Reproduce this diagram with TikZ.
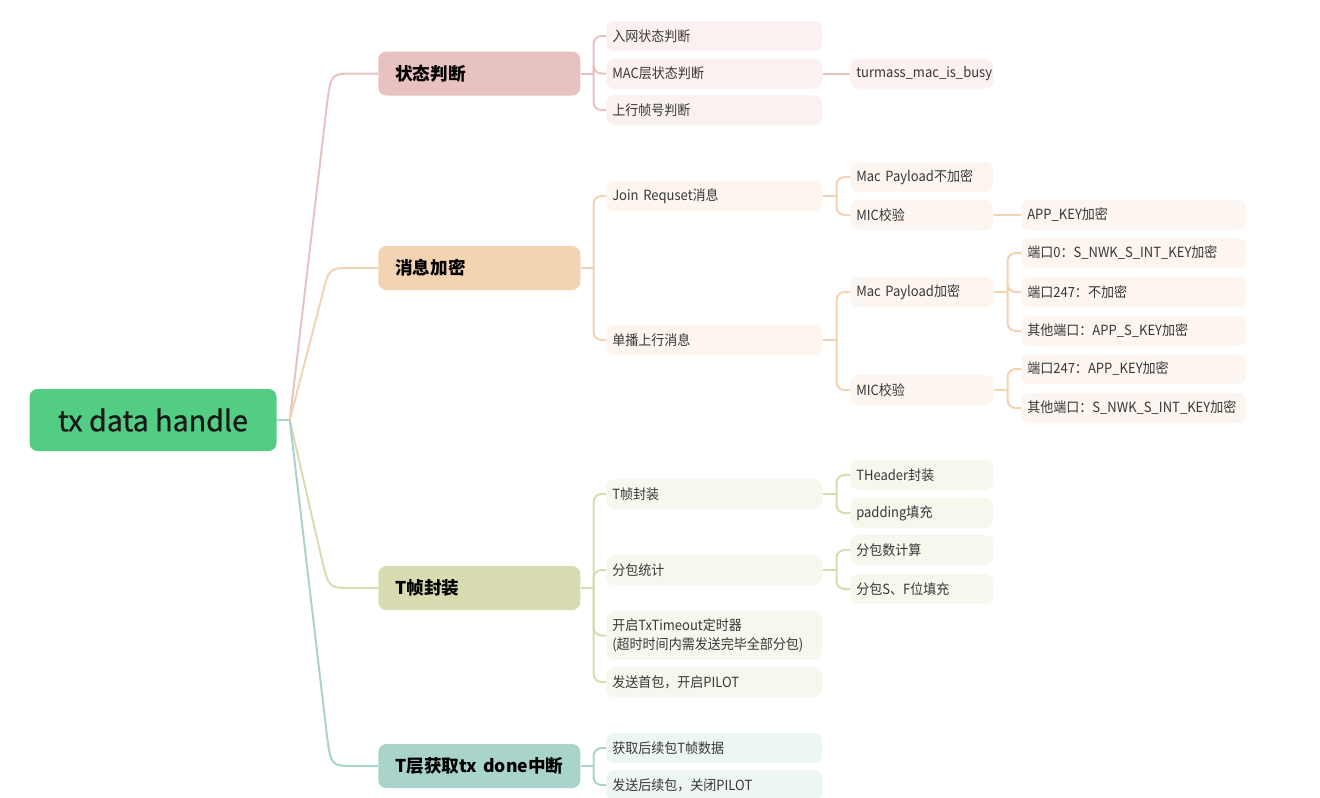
\documentclass[tikz,border=0pt]{standalone}
\usepackage{fontspec}
\setmainfont{Noto Sans CJK SC}
\newfontfamily\itemfont[FakeStretch=0.93]{Noto Sans CJK SC}
\newfontfamily\rootfont[FakeBold=0.8]{Noto Sans CJK SC}
\usetikzlibrary{positioning}

\definecolor{rootgreen}{HTML}{53CC84}
\definecolor{pinkd}{HTML}{E8C2C1}
\definecolor{pinkl}{HTML}{FBF1F0}
\definecolor{oranged}{HTML}{F3D3B2}
\definecolor{orangel}{HTML}{FDF5EF}
\definecolor{olived}{HTML}{D9DCB0}
\definecolor{olivel}{HTML}{F7F7EE}
\definecolor{teald}{HTML}{A9D4CB}
\definecolor{teall}{HTML}{EEF6F4}

\tikzset{
  root/.style={fill=rootgreen, rounded corners=6pt, minimum width=185.25pt, minimum height=46.5pt,
    font=\rootfont\fontsize{21.5}{25}\selectfont, text=black!90},
  topic/.style={anchor=west, rounded corners=6pt, text width=126pt, inner xsep=12.75pt,
    minimum height=33pt, align=left, font=\fontsize{13.2}{16}\selectfont\bfseries, text=black},
  item/.style={anchor=west, rounded corners=6pt, text width=153pt, inner xsep=4.5pt,
    minimum height=22.5pt, align=left, font=\itemfont\fontsize{10.5}{14.25}\selectfont, text=black!78},
  leaf/.style={item, text width=98.25pt},
  wide/.style={item, text width=159.75pt},
  link/.style={line width=1.5pt},
  fork/.style={link, rounded corners=6pt},
}

\begin{document}
\begin{tikzpicture}[x=0.75pt, y=-0.75pt]
  \useasboundingbox (0,0) rectangle (1320,797);

  % root and main topics
  \node[root] (root) at (153,420) {tx data handle};
  \node[topic, fill=pinkd] (state) at (378,73.5) {状态判断};
  \node[topic, fill=oranged] (crypt) at (378,268) {消息加密};
  \node[topic, fill=olived] (tframe) at (378,588) {T帧封装};
  \node[topic, fill=teald] (tdone) at (378,766) {T层获取tx~done中断};

  % 状态判断
  \node[item, fill=pinkl] (netstate) at (606,36) {入网状态判断};
  \node[item, fill=pinkl] (macstate) at (606,73.5) {MAC层状态判断};
  \node[item, fill=pinkl] (fcnt) at (606,110) {上行帧号判断};
  \node[leaf, fill=pinkl] (busy) at (850,73.5) {turmass\_mac\_is\_busy};

  % 消息加密
  \node[item, fill=orangel] (joinreq) at (606,196) {Join Requset消息};
  \node[item, fill=orangel] (unicast) at (606,340) {单播上行消息};
  \node[leaf, fill=orangel] (joinpl) at (850,177) {Mac Payload不加密};
  \node[leaf, fill=orangel] (joinmic) at (850,215) {MIC校验};
  \node[wide, fill=orangel] (appkey) at (1021,215) {APP\_KEY加密};
  \node[leaf, fill=orangel] (ucpl) at (850,292) {Mac Payload加密};
  \node[leaf, fill=orangel] (ucmic) at (850,390) {MIC校验};
  \node[wide, fill=orangel] (port0) at (1021,253) {端口0：S\_NWK\_S\_INT\_KEY加密};
  \node[wide, fill=orangel] (port247) at (1021,292) {端口247：不加密};
  \node[wide, fill=orangel] (portx) at (1021,331) {其他端口：APP\_S\_KEY加密};
  \node[wide, fill=orangel] (micport247) at (1021,369) {端口247：APP\_KEY加密};
  \node[wide, fill=orangel] (micportx) at (1021,408) {其他端口：S\_NWK\_S\_INT\_KEY加密};

  % T帧封装
  \node[item, fill=olivel] (tpack) at (606,494) {T帧封装};
  \node[item, fill=olivel] (pkstat) at (606,570) {分包统计};
  \node[item, fill=olivel, minimum height=36.75pt] (timer) at (606,635.5) {开启TxTimeout定时器\\(超时时间内需发送完毕全部分包)};
  \node[item, fill=olivel] (first) at (606,682) {发送首包，开启PILOT};
  \node[leaf, fill=olivel] (thead) at (850,475) {THeader封装};
  \node[leaf, fill=olivel] (pad) at (850,513) {padding填充};
  \node[leaf, fill=olivel] (pkcnt) at (850,550) {分包数计算};
  \node[leaf, fill=olivel] (pksf) at (850,589) {分包S、F位填充};

  % T层获取tx done中断
  \node[item, fill=teall] (next) at (606,748) {获取后续包T帧数据};
  \node[item, fill=teall] (sendnext) at (606,785) {发送后续包，关闭PILOT};

  % root to topics
  \coordinate (hub) at ([xshift=9.75pt]root.east);
  \draw[link, teald] (root.east) -- (hub);
  \draw[link, pinkd] (hub) -- (327,104) .. controls (331,73.5) .. (355,73.5) -- (state.west);
  \draw[link, oranged] (hub) -- (322,296) .. controls (329,268) .. (350,268) -- (crypt.west);
  \draw[link, olived] (hub) -- (322,560) .. controls (329,588) .. (350,588) -- (tframe.west);
  \draw[link, teald] (hub) -- (327,736) .. controls (331,766) .. (355,766) -- (tdone.west);

  % forks
  \coordinate (statej) at ([xshift=9.75pt]state.east);
  \draw[link, pinkd] (state.east) -- (statej);
  \foreach \n in {netstate,macstate,fcnt}
    \draw[fork, pinkd] (statej) |- (\n.west);
  \draw[link, pinkd] (macstate.east) -- (busy.west);

  \coordinate (cryptj) at ([xshift=9.75pt]crypt.east);
  \draw[link, oranged] (crypt.east) -- (cryptj);
  \foreach \n in {joinreq,unicast}
    \draw[fork, oranged] (cryptj) |- (\n.west);
  \coordinate (joinj) at ([xshift=10.5pt]joinreq.east);
  \draw[link, oranged] (joinreq.east) -- (joinj);
  \foreach \n in {joinpl,joinmic}
    \draw[fork, oranged] (joinj) |- (\n.west);
  \draw[link, oranged] (joinmic.east) -- (appkey.west);
  \coordinate (unij) at ([xshift=10.5pt]unicast.east);
  \draw[link, oranged] (unicast.east) -- (unij);
  \foreach \n in {ucpl,ucmic}
    \draw[fork, oranged] (unij) |- (\n.west);
  \coordinate (plj) at ([xshift=10.5pt]ucpl.east);
  \draw[link, oranged] (ucpl.east) -- (plj);
  \foreach \n in {port0,port247,portx}
    \draw[fork, oranged] (plj) |- (\n.west);
  \coordinate (micj) at ([xshift=10.5pt]ucmic.east);
  \draw[link, oranged] (ucmic.east) -- (micj);
  \foreach \n in {micport247,micportx}
    \draw[fork, oranged] (micj) |- (\n.west);

  \coordinate (tframej) at ([xshift=9.75pt]tframe.east);
  \draw[link, olived] (tframe.east) -- (tframej);
  \foreach \n in {tpack,pkstat,timer,first}
    \draw[fork, olived] (tframej) |- (\n.west);
  \coordinate (tpackj) at ([xshift=10.5pt]tpack.east);
  \draw[link, olived] (tpack.east) -- (tpackj);
  \foreach \n in {thead,pad}
    \draw[fork, olived] (tpackj) |- (\n.west);
  \coordinate (pkstatj) at ([xshift=10.5pt]pkstat.east);
  \draw[link, olived] (pkstat.east) -- (pkstatj);
  \foreach \n in {pkcnt,pksf}
    \draw[fork, olived] (pkstatj) |- (\n.west);

  \coordinate (tdonej) at ([xshift=9.75pt]tdone.east);
  \draw[link, teald] (tdone.east) -- (tdonej);
  \foreach \n in {next,sendnext}
    \draw[fork, teald] (tdonej) |- (\n.west);
\end{tikzpicture}
\end{document}
